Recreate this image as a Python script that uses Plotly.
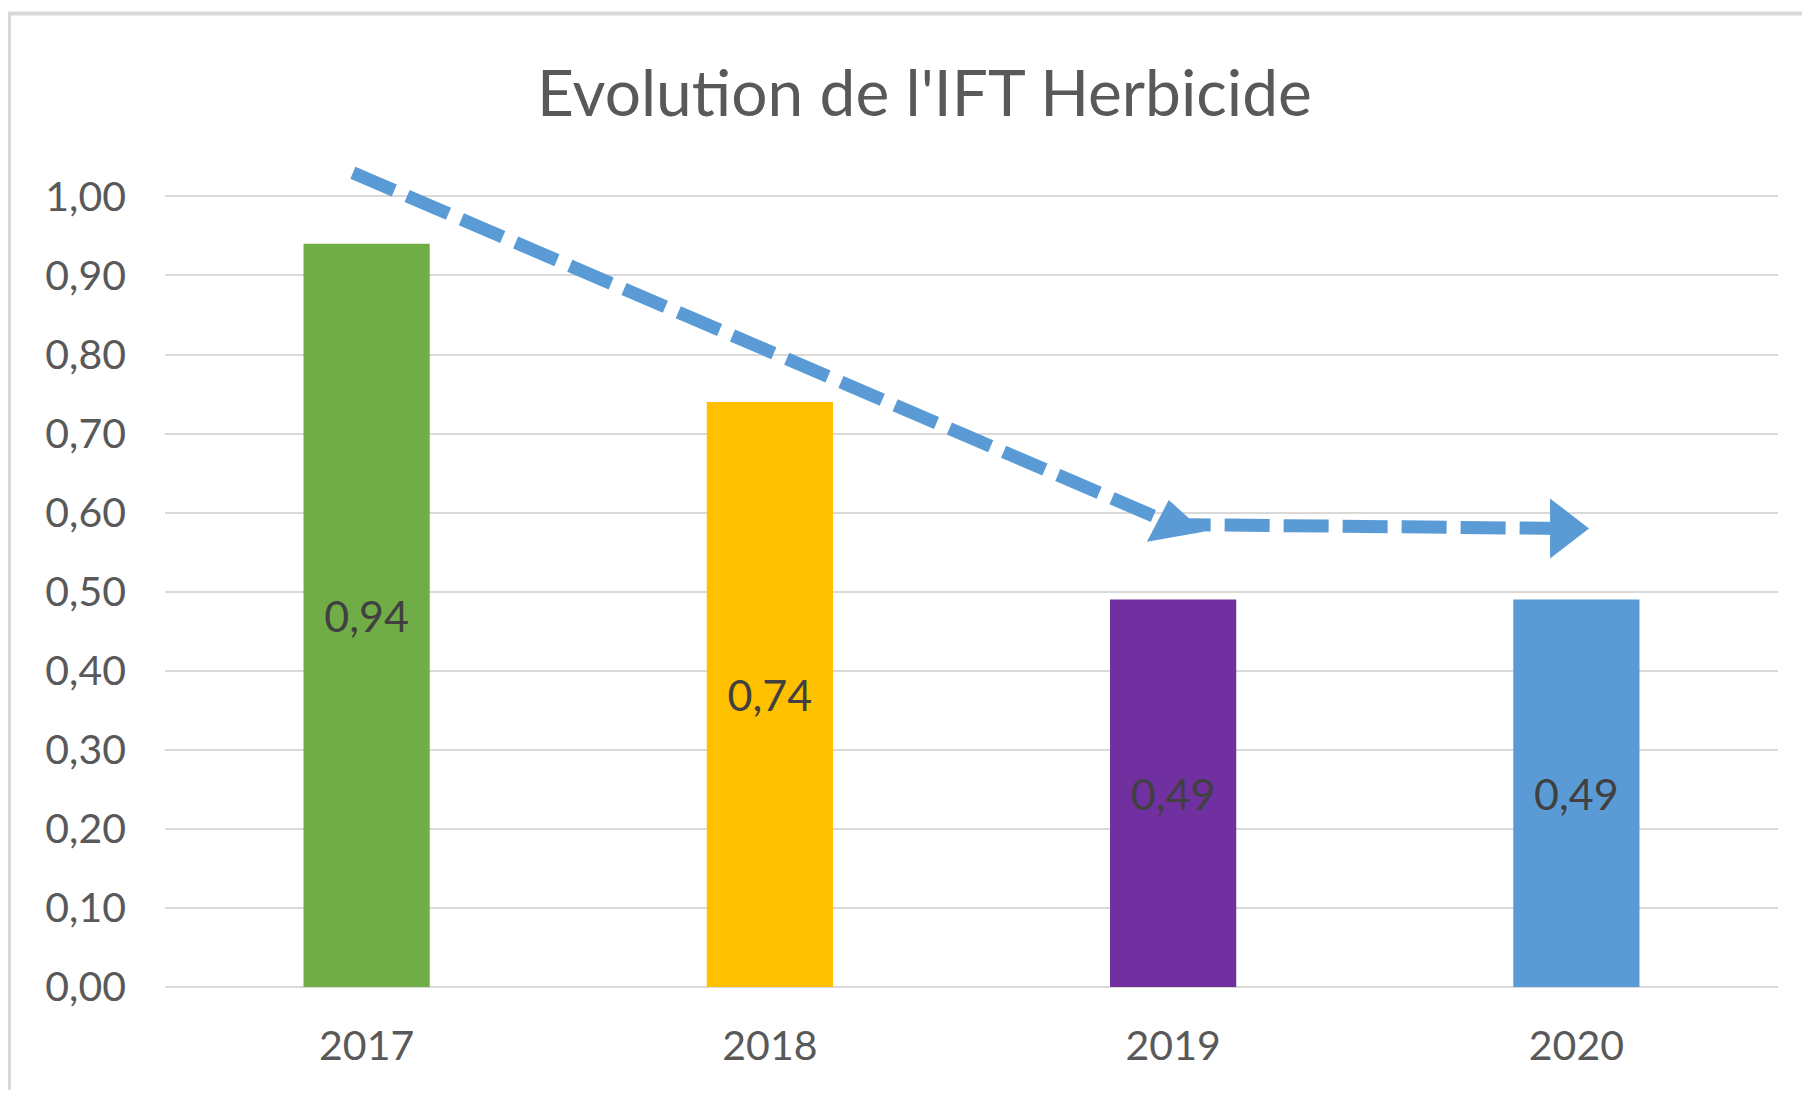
import plotly.graph_objects as go

# ---- data ----
years = ["2017", "2018", "2019", "2020"]
ift_values = [0.94, 0.74, 0.49, 0.49]
bar_colors = ["#70ad47", "#ffc000", "#7030a0", "#5b9bd5"]
y_ticks = [0.0, 0.1, 0.2, 0.3, 0.4, 0.5, 0.6, 0.7, 0.8, 0.9, 1.0]
title_text = "Evolution de l'IFT Herbicide"

# decorative trend arrow (category index, value)
trend_x = [-0.034, 2.0, 2.967]
trend_y = [1.030, 0.585, 0.580]

OFF = 8  # page body margin
W, H = 1810 - 2 * OFF, 1098 - 2 * OFF
FONT = "Lato"

fig = go.Figure()

fig.add_trace(go.Bar(
    x=list(range(len(years))),
    y=ift_values,
    marker=dict(color=bar_colors, line=dict(width=0)),
    width=0.313,
    texttemplate="%{y:.2f}",
    textposition="inside",
    insidetextanchor="middle",
    textangle=0,
    constraintext="none",
    textfont=dict(family=FONT, size=43, color="#404040"),
    showlegend=False,
    hoverinfo="skip",
))

fig.add_trace(go.Scatter(
    x=trend_x,
    y=trend_y,
    mode="lines+markers",
    opacity=1,
    line=dict(color="#5b9bd5", width=13, dash="45px,14px"),
    marker=dict(
        symbol=["circle", "triangle-up", "triangle-right"],
        size=[0, 50, 52],
        angle=[0, -10, 0],
        color="#5b9bd5",
        opacity=1,
        line=dict(width=0, color="#5b9bd5"),
    ),
    showlegend=False,
    hoverinfo="skip",
    cliponaxis=False,
))

# target screen positions (full window pixels) converted to figure pixels
plot_left, plot_right = 165 - OFF, 1778 - OFF
plot_bottom = 987 - OFF
y1_px = 196.5 - OFF
px_per_unit = (plot_bottom - y1_px) / 1.0
y_max = 1.06
plot_top = plot_bottom - y_max * px_per_unit

fig.update_layout(
    width=W, height=H,
    margin=dict(l=plot_left, r=W - plot_right, t=plot_top, b=H - plot_bottom, pad=0),
    paper_bgcolor="white",
    plot_bgcolor="white",
    separators=", ",
    font=dict(family=FONT, color="#595959"),
    title=dict(
        text=title_text,
        font=dict(family=FONT, size=64, color="#595959"),
        x=(924.5 - OFF) / W, xanchor="center",
        y=1 - (94 - OFF) / H, yanchor="middle",
        xref="container", yref="container",
    ),
    shapes=[dict(
        type="rect", xref="paper", yref="paper",
        x0=(9 - OFF - plot_left) / (plot_right - plot_left),
        x1=1.2,
        y0=-0.3,
        y1=1 + (plot_top - (13.5 - OFF)) / (plot_bottom - plot_top),
        line=dict(color="#d9d9d9", width=4),
        fillcolor="rgba(0,0,0,0)",
        layer="below",
    )],
)

fig.update_xaxes(
    range=[-0.5, 3.5],
    tickmode="array",
    tickvals=list(range(len(years))),
    ticktext=years,
    tickfont=dict(family=FONT, size=41, color="#595959"),
    showgrid=False,
    showline=False,
    zeroline=False,
    ticks="",
    ticklabelstandoff=31,
)

fig.update_yaxes(
    range=[0, y_max],
    tickmode="array",
    tickvals=y_ticks,
    tickformat=".2f",
    tickfont=dict(family=FONT, size=41, color="#595959"),
    showgrid=True,
    gridcolor="#d9d9d9",
    gridwidth=2,
    zeroline=True,
    zerolinecolor="#d9d9d9",
    zerolinewidth=2,
    showline=False,
    ticks="",
    ticklabelstandoff=38,
)

fig.write_html("out.html")
